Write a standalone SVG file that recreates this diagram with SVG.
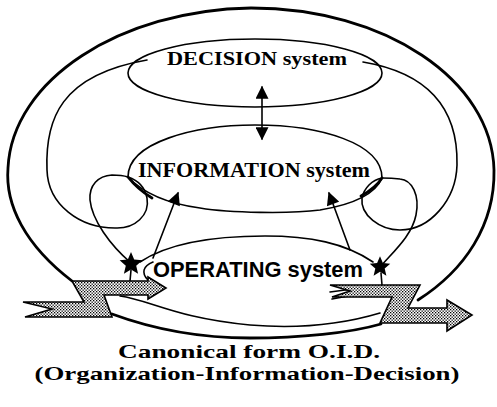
<svg xmlns="http://www.w3.org/2000/svg" width="497" height="407" viewBox="0 0 497 407">
<style>
.ln{fill:none;stroke:#000;stroke-width:1.6;stroke-linecap:round;stroke-linejoin:round}
.thick{fill:none;stroke:#000;stroke-width:2.8;stroke-linecap:round}
.serif{font-family:"Liberation Serif","Times New Roman",serif;font-weight:bold;fill:#000}
.sans{font-family:"Liberation Sans",Arial,sans-serif;font-weight:bold;fill:#000}
.flow{fill:url(#dots);stroke:#000;stroke-width:1.6;stroke-linejoin:miter}
.star{fill:#000}
</style>
<defs>
<pattern id="dots" width="3" height="3" patternUnits="userSpaceOnUse">
<rect width="3" height="3" fill="#fff"/>
<rect x="0" y="0" width="1.3" height="1.3" fill="#000"/>
<rect x="1.5" y="1.5" width="1.3" height="1.3" fill="#000"/>
</pattern>
<marker id="ah" viewBox="0 0 10 10" refX="9" refY="5" markerUnits="userSpaceOnUse" markerWidth="16" markerHeight="13" orient="auto-start-reverse">
<path d="M0,0 L10,5 L0,10 z" fill="#000"/>
</marker>
<path id="starShape" d="M0,-12 L3.2,-4.4 L11.4,-3.7 L5.2,1.7 L7.1,9.7 L0,5.4 L-7.1,9.7 L-5.2,1.7 L-11.4,-3.7 L-3.2,-4.4 Z"/>
</defs>
<rect width="497" height="407" fill="#fff"/>

<g id="connectors">
<path class="thick" d="M72,281 C25,245 5,205 8,168 C12,80 120,10 251,8 C385,8 492,80 494,170 C495,225 465,270 418,300"/>
<path class="thick" d="M112,314 C150,328 195,338 250,338 C300,338 350,333 381,324"/>
<path class="ln" d="M147,60 C60,75 45,120 47,170 C48,205 80,228 115,228 C135,229 150,215 147,198 C145,187 137,180 128,177"/>
<path class="ln" d="M363,62 C440,75 458,120 457,165 C456,200 430,230 400,230 C380,230 360,215 362,198 C364,188 372,180 382,178"/>
<path class="ln" d="M131,263 C110,245 92,220 90,200 C89,185 98,176 112,175 C120,175 125,176 128,177"/>
<path class="ln" d="M381,266 C395,250 412,235 416,215 C420,195 412,180 400,179 C392,178 386,178 382,178"/>
<path class="thick" d="M128,177 C135,186 142,192 152,198"/>
<path class="thick" d="M382,178 C377,186 370,191 361,196"/>
<path class="ln" d="M262,87 L262,139" marker-start="url(#ah)" marker-end="url(#ah)"/>
<path class="ln" stroke-width="2.2" d="M153,258 L178,193" marker-end="url(#ah)"/>
<path class="ln" stroke-width="2.2" d="M350,250 L329,193" marker-end="url(#ah)"/>
<path class="ln" d="M131,270 L130,281"/>
<path class="ln" d="M381,273 L382,285"/>
<path class="ln" d="M330,292 L368,287"/>
<path class="ln" d="M332,299 L370,292"/>
</g>

<g id="decision">
<ellipse class="ln" cx="255" cy="73" rx="127" ry="34"/>
<text class="serif" x="257" y="65" font-size="19" text-anchor="middle" textLength="180" lengthAdjust="spacingAndGlyphs">DECISION system</text>
</g>

<g id="information">
<path class="ln" d="M128,177 C128,142 195,125 255,125 C320,125 382,143 382,178 C375,195 350,205 320,210 C290,214 230,213 200,208 C170,204 145,195 128,177 Z"/>
<text class="serif" x="254" y="177" font-size="20" text-anchor="middle" textLength="232" lengthAdjust="spacingAndGlyphs">INFORMATION system</text>
</g>

<g id="operating">
<path class="ln" d="M140,262 C170,242 220,236 265,236 C310,236 345,243 373,262"/>
<path class="ln" d="M153,262 C143,266 141,273 148,280"/>
<path class="ln" d="M120,296 C150,300 175,318 250,325 C310,330 350,322 380,313"/>
<text class="sans" x="258" y="277" font-size="22" text-anchor="middle" textLength="210" lengthAdjust="spacingAndGlyphs">OPERATING system</text>
</g>

<g id="star-left"><use href="#starShape" class="star" transform="translate(131,264)"/></g>
<g id="star-right"><use href="#starShape" class="star" transform="translate(380,267) scale(0.9)"/></g>

<g id="input-flow">
<polygon class="flow" points="72,281 148,281 148,277 166,288 148,299 148,295 104,295 112,317 25,317 52,309 23,302 84,302"/>
</g>

<g id="output-flow">
<polygon class="flow" points="330,285 420,285 408,308 447,308 447,300 472,315 447,331 447,323 380,323 392,297 332,297 350,291"/>
</g>

<g id="caption">
<text class="serif" x="249" y="358" font-size="19" text-anchor="middle" textLength="262" lengthAdjust="spacingAndGlyphs">Canonical form O.I.D.</text>
<text class="serif" x="247" y="380" font-size="19" text-anchor="middle" textLength="425" lengthAdjust="spacingAndGlyphs">(Organization-Information-Decision)</text>
</g>
</svg>
